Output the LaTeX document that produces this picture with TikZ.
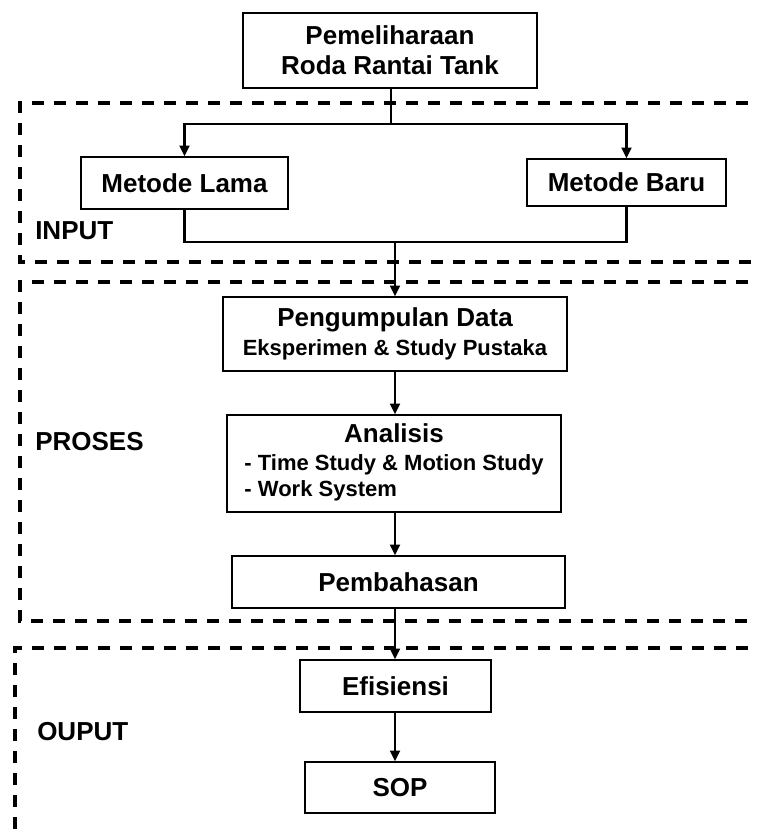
\documentclass[tikz,border=0pt]{standalone}
\usepackage{fontspec}
\setmainfont{Liberation Sans}
\usetikzlibrary{arrows.meta}
\newcommand\hdf{\fontsize{19.5}{22.5}\selectfont\bfseries}
\newcommand\sbf{\fontsize{16.5}{19.5}\selectfont\bfseries}
\begin{document}
\begin{tikzpicture}[x=0.75pt,y=-0.75pt,
  box/.style={draw=black,line width=1.1pt,inner sep=0pt,align=center,font=\hdf},
  conn/.style={line width=1.7pt},
  arr/.style={line width=1.6pt,-{Triangle[width=7.5pt,length=8pt]}},
  region/.style={line width=2.4pt,dash pattern=on 9pt off 7.5pt},
  lbl/.style={anchor=west,inner sep=0pt,font=\hdf}]
\useasboundingbox (0,0) rectangle (757,833);
\clip (0,0) rectangle (757,833);
% regions
\draw[region] (770,103) -- (20,103) -- (20,262) -- (770,262);
\draw[region] (770,282) -- (20,282) -- (20,621) -- (770,621);
\draw[region] (770,648) -- (15,648) -- (15,845);
\node[lbl] (input) at (35,231) {INPUT};
\node[lbl] (proses) at (35,442) {PROSES};
\node[lbl] (ouput) at (37,732) {OUPUT};
% boxes
\node[box,minimum width=294*0.75pt,minimum height=75*0.75pt] (top) at (390,50.5) {Pemeliharaan\\Roda Rantai Tank};
\node[box,minimum width=207*0.75pt,minimum height=52*0.75pt] (lama) at (184.5,183) {Metode Lama};
\node[box,minimum width=199*0.75pt,minimum height=47*0.75pt] (baru) at (626.5,182.5) {Metode Baru};
\node[box,minimum width=344*0.75pt,minimum height=74*0.75pt] (peng) at (395,334) {Pengumpulan Data\\[-1pt]{\sbf Eksperimen \& Study Pustaka}};
\node[box,minimum width=334*0.75pt,minimum height=97*0.75pt] (anal) at (394,463.5) {\sbf\begin{tabular}{@{}l@{}}\multicolumn{1}{@{}c@{}}{\hdf Analisis}\\[1.5pt] - Time Study \& Motion Study\\ - Work System\end{tabular}};
\node[box,minimum width=333*0.75pt,minimum height=52*0.75pt] (pemb) at (398.5,582) {Pembahasan};
\node[box,minimum width=191*0.75pt,minimum height=52*0.75pt] (efis) at (395.5,686) {Efisiensi};
\node[box,minimum width=190*0.75pt,minimum height=51*0.75pt] (sop) at (400,787.5) {SOP};
% connectors
\coordinate (j1) at (391,124);
\coordinate (j2) at (395,242);
\draw[conn] (top.south -| j1) -- (j1);
\draw[arr] (j1) -| (lama.north);
\draw[arr] (j1) -| (baru.north);
\draw[conn] (lama.south) -- (lama.south |- j2) -- (baru.south |- j2) -- (baru.south);
\draw[arr] (j2) -- (peng.north -| j2);
\draw[arr] (peng.south -| j2) -- (anal.north -| j2);
\draw[arr] (anal.south -| j2) -- (pemb.north -| j2);
\draw[arr] (pemb.south -| j2) -- (efis.north -| j2);
\draw[arr] (efis.south -| j2) -- (sop.north -| j2);
\end{tikzpicture}
\end{document}
